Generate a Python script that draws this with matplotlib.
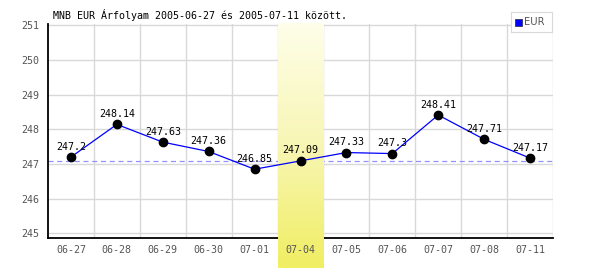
import numpy as np
import matplotlib
matplotlib.use("Agg")
import matplotlib.pyplot as plt
from matplotlib.colors import LinearSegmentedColormap

# adatok
dates = ["06-27", "06-28", "06-29", "06-30", "07-01", "07-04",
         "07-05", "07-06", "07-07", "07-08", "07-11"]
eur = [247.2, 248.14, 247.63, 247.36, 246.85, 247.09,
       247.33, 247.3, 248.41, 247.71, 247.17]
labels = ["247.2", "248.14", "247.63", "247.36", "246.85", "247.09",
          "247.33", "247.3", "248.41", "247.71", "247.17"]
yticks = [245, 246, 247, 248, 249, 250, 251]
highlight = 5          # 07-04
ref_value = eur[highlight]

plt.rcParams['font.family'] = ['DejaVu Sans Mono']
fs = 7.2
grid_c = "#d9d9d9"
tick_c = "#555555"

fig = plt.figure(figsize=(6, 2.7), dpi=100)
ax = fig.add_axes([48/600, 32/270, 505/600, 214/270])
ax.set_facecolor("none")
x = np.arange(len(dates))
ax.set_xlim(-0.5, len(dates) - 0.5)
ax.set_ylim(244.87, 251.03)

# racs
for v in yticks:
    ax.axhline(v, color=grid_c, lw=1, zorder=1)
for i in range(1, len(dates) + 1):
    ax.axvline(i - 0.5, color=grid_c, lw=1, zorder=1)
ax.axhline(ref_value, color="#9090ff", lw=0.9, ls=(0, (4, 3)), zorder=2)

# tengelyek
for s in ax.spines.values():
    s.set_visible(False)
ax.plot([-0.5, -0.5], [244.87, 251.03], color="black", lw=1.3, zorder=2, clip_on=False)
ax.plot([-0.5, len(dates) - 0.5], [244.87, 244.87], color="black", lw=1.3, zorder=2, clip_on=False)

# kiemelt nap savja
cmap = LinearSegmentedColormap.from_list("band", ["#fefeea", "#f8f6b4", "#f0ee62"])
grad = np.linspace(0, 1, 256).reshape(-1, 1)
ax.imshow(grad, cmap=cmap, aspect="auto", origin="upper",
          extent=[highlight - 0.5, highlight + 0.5, 244.0, 251.03],
          zorder=3, clip_on=False, interpolation="bilinear")

ax.plot(x, eur, color="#0000ff", lw=0.9, zorder=4)
ax.plot(x, eur, "o", color="black", ms=6, zorder=5)
for xi, yi, t in zip(x, eur, labels):
    ax.annotate(t, (xi, yi), xytext=(0, 7.5), textcoords="offset points",
                ha="center", va="center", fontsize=fs, color="black", zorder=6)

ax.set_xticks(x)
ax.set_xticklabels(dates)
ax.set_yticks(yticks)
ax.tick_params(length=0, labelsize=fs, labelcolor=tick_c, pad=6)
ax.tick_params(axis="x", pad=5)
ax.xaxis.set_zorder(7)
ax.yaxis.set_zorder(7)

fig.text(53/600, 1 - 15/270, "MNB EUR Árfolyam 2005-06-27 és 2005-07-11 között.",
         fontsize=fs, color="black", va="center", ha="left")

# jelmagyarazat
lax = fig.add_axes([511/600, 1 - 32/270, 41/600, 20/270])
lax.set_xticks([])
lax.set_yticks([])
for s in lax.spines.values():
    s.set_color(grid_c)
lax.set_xlim(0, 41)
lax.set_ylim(0, 20)
lax.add_patch(plt.Rectangle((4, 6.5), 7, 7, facecolor="#0000ff", edgecolor="#333366", lw=0.6))
lax.text(13, 10, "EUR", fontsize=fs, color=tick_c, va="center", ha="left",
         family="DejaVu Sans")

fig.savefig("out.png", dpi=100)
